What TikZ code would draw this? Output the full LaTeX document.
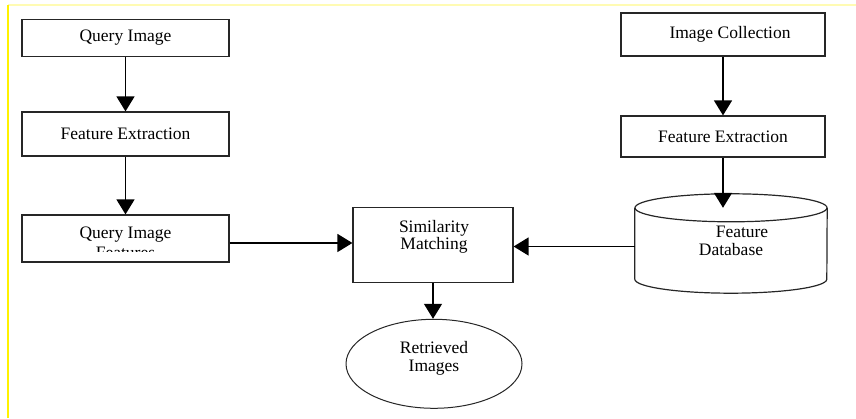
\documentclass[tikz,border=0pt]{standalone}
\usepackage{fontspec}
\setmainfont{Liberation Serif}
\usetikzlibrary{arrows.meta,shapes.geometric}
\begin{document}
\begin{tikzpicture}[x=1pt, y=1pt, every node/.style={font=\fontsize{17.5}{17}\selectfont}]
        \tikzset{
            box/.style={draw=black!85, line width=1.2pt, inner sep=0pt},
            txt/.style={align=center, inner sep=0pt},
            flow/.style={line width=1.4pt, -{Triangle[width=18pt,length=15pt]}},
            res/.style={ellipse, draw=black!85, line width=1pt, minimum width=176pt, minimum height=89pt, inner sep=0pt}
        }
        \useasboundingbox (0,0) rectangle (856,419);
        \draw[yellow!30, line width=1.5pt] (8,414) -- (856,414);
        \draw[yellow, line width=2pt] (8,414) -- (8,1);
        \node[box, minimum width=207pt, minimum height=37pt] (qimg) at (125.5,381) {Query Image};
        \node[box, minimum width=207pt, minimum height=44pt] (qfe) at (125.5,285) {Feature Extraction\\[-3pt]};
        \node[box, minimum width=207pt, minimum height=47pt] (qfeat) at (125.5,180.5) {};
        \begin{scope}
            \clip (22,167.5) rectangle (229,215);
            \node[txt] (qfeattxt) at (125.5,176) {Query Image\\[3pt]Features};
        \end{scope}
        \node[box, minimum width=204pt, minimum height=43pt] (icol) at (723,384.5) {\hspace*{14pt}Image Collection};
        \node[box, minimum width=204pt, minimum height=41pt] (rfe) at (723,282.5) {Feature Extraction};
        \node[minimum width=192pt, minimum height=71pt, inner sep=0pt] (db) at (731,175.5) {};
        \draw[black!85, line width=1.2pt] (db.north west) -- (db.south west)
            arc[start angle=180, end angle=360, x radius=96pt, y radius=14pt] -- (db.north east);
        \draw[black!85, line width=1.2pt] (db.north) ellipse [x radius=96pt, y radius=14pt];
        \node[txt] (dbtxt) at (731,178) {\hspace*{22pt}Feature\\[1pt]Database};
        \node[box, minimum width=160pt, minimum height=75pt] (simm) at (433,173.8) {};
        \node[txt] (simmtxt) at (434,182) {Similarity\\Matching};
        \node[res] (ret) at (434,55.2) {};
        \node[txt] (rettxt) at (434,61) {Retrieved\\[1pt]Images};
        \draw[flow] (qimg) -- (qfe);
        \draw[flow] (qfe) -- (qfeat);
        \draw[flow] (icol) -- (rfe);
        \draw[flow] (rfe.south) -- (rfe.south |- db.north);
        \draw[flow] ([yshift=-4.5pt]qfeat.east) -- ([yshift=-4.5pt]qfeat.east -| simm.west);
        \draw[flow] ([yshift=-3pt]db.west) -- ([yshift=-3pt]db.west -| simm.east);
        \draw[flow] (simm.south) -- (simm.south |- ret.north);
    \end{tikzpicture}
\end{document}
